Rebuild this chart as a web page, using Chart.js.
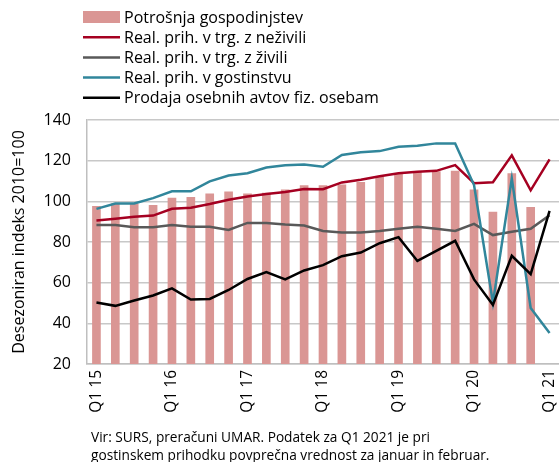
<!DOCTYPE html>
<html>
<head>
<meta charset="utf-8">
<script src="https://cdn.jsdelivr.net/npm/chart.js@4"></script>
<style>
  html, body { margin: 0; padding: 0; background: #fff; }
</style>
</head>
<body>
<canvas id="myChart" width="559" height="462"></canvas>
<script>
const quarters = [
  'Q1 15', 'Q2 15', 'Q3 15', 'Q4 15',
  'Q1 16', 'Q2 16', 'Q3 16', 'Q4 16',
  'Q1 17', 'Q2 17', 'Q3 17', 'Q4 17',
  'Q1 18', 'Q2 18', 'Q3 18', 'Q4 18',
  'Q1 19', 'Q2 19', 'Q3 19', 'Q4 19',
  'Q1 20', 'Q2 20', 'Q3 20', 'Q4 20',
  'Q1 21'
];

const potrosnja = [97.6, 98.8, 98.8, 98.0, 101.6, 102.0, 103.7, 104.7, 103.7, 104.0, 105.7, 107.7,
  107.8, 108.1, 109.4, 111.9, 113.3, 114.1, 114.6, 114.9, 105.6, 94.7, 113.6, 97.0, null];
const neziviliVals = [90.6, 91.4, 92.4, 93.0, 96.3, 96.9, 98.7, 100.8, 102.4, 103.6, 104.6, 106.1,
  106.0, 109.3, 110.6, 112.3, 113.8, 114.5, 115.0, 117.8, 108.9, 109.4, 122.6, 105.4, 120.6];
const ziviliVals = [88.3, 88.3, 87.3, 87.3, 88.3, 87.5, 87.5, 85.9, 89.4, 89.4, 88.6, 88.1,
  85.4, 84.7, 84.7, 85.4, 86.5, 87.5, 86.5, 85.4, 88.9, 83.4, 85.0, 86.5, 93.2];
const gostinstvoVals = [96.3, 98.9, 98.9, 101.6, 104.9, 104.9, 109.8, 112.7, 113.8, 116.6, 117.7, 118.1,
  117.0, 122.8, 124.1, 124.7, 126.8, 127.3, 128.5, 128.5, 108.0, 50.2, 111.2, 47.6, 35.3];
const avtiVals = [50.2, 48.6, 51.2, 53.7, 57.2, 51.7, 52.0, 56.4, 61.8, 65.2, 61.6, 66.0,
  68.6, 73.0, 74.8, 79.4, 82.4, 70.7, 75.6, 80.6, 61.6, 49.0, 73.2, 64.2, 95.3];

const yTicks = [20, 40, 60, 80, 100, 120, 140];
const yTitle = 'Desezoniran indeks 2010=100';
const noteLines = [
  'Vir: SURS, preračuni UMAR. Podatek za Q1 2021 je pri',
  'gostinskem prihodku povprečna vrednost za januar in februar.'
];

const FONT = '"Open Sans", "DejaVu Sans", sans-serif';

// legend, axis title and footnote drawn straight on the canvas
const extras = {
  id: 'extras',
  afterDraw(chart) {
    const ctx = chart.ctx;
    ctx.save();
    ctx.font = '16px ' + FONT;
    ctx.textBaseline = 'middle';
    ctx.textAlign = 'left';
    chart.data.datasets.forEach((ds, i) => {
      const y = 17 + i * 20.2;
      if (ds.type === 'bar') {
        ctx.fillStyle = ds.backgroundColor;
        ctx.fillRect(83, y - 6, 37, 12);
      } else {
        ctx.strokeStyle = ds.borderColor;
        ctx.lineWidth = 2.5;
        ctx.beginPath();
        ctx.moveTo(83, y);
        ctx.lineTo(120, y);
        ctx.stroke();
      }
      ctx.fillStyle = '#000';
      ctx.fillText(ds.label, 124, y + 1);
    });

    ctx.font = '13.7px ' + FONT;
    ctx.fillText(noteLines[0], 91, 438);
    ctx.fillText(noteLines[1], 91, 456);

    ctx.translate(19, 242);
    ctx.rotate(-Math.PI / 2);
    ctx.textAlign = 'center';
    ctx.font = '16px ' + FONT;
    ctx.fillText(yTitle, 0, 0);
    ctx.restore();
  }
};

const config = document.getElementById('myChart');

const chart = new Chart(config, {
  data: {
    labels: quarters,
    datasets: [
      {
        type: 'bar',
        label: 'Potrošnja gospodinjstev',
        data: potrosnja,
        backgroundColor: '#DA9694',
        barThickness: 8,
        order: 10
      },
      {
        type: 'line',
        label: 'Real. prih. v trg. z neživili',
        data: neziviliVals,
        borderColor: '#A50021',
        borderWidth: 2.5,
        pointRadius: 0,
        tension: 0,
        order: 4
      },
      {
        type: 'line',
        label: 'Real. prih. v trg. z živili',
        data: ziviliVals,
        borderColor: '#595959',
        borderWidth: 2.5,
        pointRadius: 0,
        tension: 0,
        order: 3
      },
      {
        type: 'line',
        label: 'Real. prih. v gostinstvu',
        data: gostinstvoVals,
        borderColor: '#31869B',
        borderWidth: 2.5,
        pointRadius: 0,
        tension: 0,
        order: 2
      },
      {
        type: 'line',
        label: 'Prodaja osebnih avtov fiz. osebam',
        data: avtiVals,
        borderColor: '#000000',
        borderWidth: 2.5,
        pointRadius: 0,
        tension: 0,
        order: 1
      }
    ]
  },
  options: {
    responsive: false,
    animation: false,
    layout: {
      padding: { top: 120, left: 0, right: 0, bottom: 0 }
    },
    plugins: {
      legend: { display: false },
      tooltip: { enabled: false }
    },
    scales: {
      x: {
        offset: true,
        grid: { display: false, drawTicks: false },
        border: { color: '#BFBFBF', width: 1.5 },
        ticks: {
          autoSkip: false,
          minRotation: 90,
          maxRotation: 90,
          padding: 6,
          color: '#000',
          font: { family: FONT, size: 15.5 },
          callback: function(value, index) {
            return index % 4 === 0 ? quarters[index] : '';
          }
        },
        afterFit: function(scale) {
          scale.height = 462 - 364;
          scale.paddingLeft = 0;
          scale.paddingRight = 0;
        }
      },
      y: {
        min: yTicks[0],
        max: yTicks[yTicks.length - 1],
        afterBuildTicks: function(scale) {
          scale.ticks = yTicks.map(v => ({ value: v }));
        },
        grid: { color: '#C8C8C8', lineWidth: 1.5, drawTicks: false },
        border: { color: '#BFBFBF', width: 1.5 },
        ticks: {
          padding: 16,
          color: '#000',
          font: { family: FONT, size: 16 }
        },
        afterFit: function(scale) {
          scale.width = 87;
        }
      }
    }
  },
  plugins: [extras]
});
</script>
</body>
</html>
